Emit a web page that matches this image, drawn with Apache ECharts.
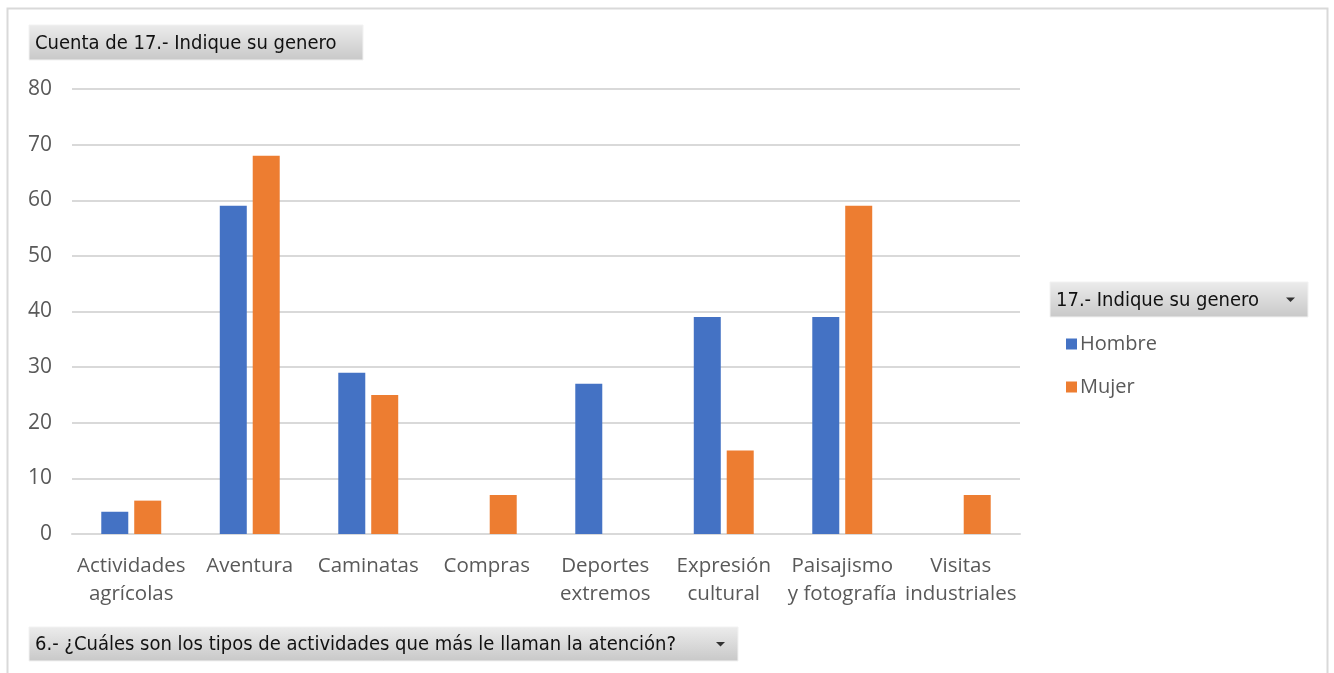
<!DOCTYPE html>
<html>
<head>
<meta charset="utf-8">
<script src="https://cdn.jsdelivr.net/npm/echarts@6/dist/echarts.min.js"></script>
<style>
  html, body { margin: 0; padding: 0; background: #fff; }
  #main { width: 1334px; height: 673px; }
</style>
</head>
<body>
<div id="main"></div>
<script>
// datos de la tabla dinamica
const categorias = ['Actividades\nagrícolas', 'Aventura', 'Caminatas', 'Compras', 'Deportes\nextremos', 'Expresión\ncultural', 'Paisajismo\ny fotografía', 'Visitas\nindustriales']
const hombre = [4, 59, 29, null, 27, 39, 39, null]
const mujer = [6, 68, 25, 7, null, 15, 59, 7]
const serieNombres = ['Hombre', 'Mujer']
const yMin = 0
const yMax = 80
const yPaso = 10

// caja gris con degradado (botones de campo de Excel)
function botonCampo(x, y, w, h, texto, flecha) {
  const items = [
    {
      type: 'rect',
      shape: { x: x, y: y, width: w, height: h },
      style: {
        fill: new echarts.graphic.LinearGradient(0, 0, 0, 1, [
          { offset: 0, color: '#ececec' },
          { offset: 1, color: '#c8c8c8' }
        ]),
        stroke: '#f2f2f2',
        lineWidth: 1
      }
    },
    {
      type: 'text',
      x: x + 6,
      y: y + h / 2 + 1,
      style: {
        text: texto,
        fontFamily: 'DejaVu Sans Condensed',
        fontSize: 20,
        fill: '#111',
        verticalAlign: 'middle'
      }
    }
  ]
  if (flecha) {
    items.push({
      type: 'polygon',
      shape: { points: [[x + w - 22, y + h / 2 - 2], [x + w - 13, y + h / 2 - 2], [x + w - 17.5, y + h / 2 + 2.5]] },
      style: { fill: '#333' }
    })
  }
  return items
}

const myChart = echarts.init(document.getElementById('main'))
const option = {
  animation: false,
  graphic: [
    {
      type: 'rect',
      shape: { x: 7.5, y: 8.5, width: 1320, height: 680 },
      style: { fill: 'none', stroke: '#d9d9d9', lineWidth: 2 }
    },
    ...botonCampo(29, 25, 334, 35, 'Cuenta de 17.- Indique su genero', false),
    ...botonCampo(1050, 282, 258, 35, '17.- Indique su genero', true),
    ...botonCampo(29, 627, 709, 34, '6.- ¿Cuáles son los tipos de actividades que más le llaman la atención?', true)
  ],
  legend: {
    orient: 'vertical',
    left: 1061,
    top: 329,
    itemWidth: 11,
    itemHeight: 11,
    itemGap: 23,
    icon: 'rect',
    data: serieNombres,
    textStyle: { fontFamily: 'Open Sans', fontSize: 20, color: '#595959', padding: [0, 0, 0, -2] }
  },
  grid: {
    left: 72,
    right: 314,
    top: 89,
    bottom: 139
  },
  xAxis: {
    type: 'category',
    data: categorias,
    axisTick: { show: false },
    axisLine: { lineStyle: { color: '#d9d9d9', width: 2 } },
    axisLabel: {
      interval: 0,
      margin: 18,
      fontFamily: 'Open Sans',
      fontSize: 20.5,
      lineHeight: 28,
      color: '#595959'
    }
  },
  yAxis: {
    type: 'value',
    min: yMin,
    max: yMax,
    interval: yPaso,
    axisLine: { show: false },
    axisTick: { show: false },
    splitLine: { lineStyle: { color: '#d9d9d9', width: 2 } },
    axisLabel: {
      margin: 20,
      fontFamily: 'Open Sans',
      fontSize: 21,
      color: '#595959'
    }
  },
  series: [
    {
      name: serieNombres[0],
      type: 'bar',
      data: hombre,
      barWidth: 27,
      barGap: '22%',
      itemStyle: { color: '#4472C4' }
    },
    {
      name: serieNombres[1],
      type: 'bar',
      data: mujer,
      barWidth: 27,
      barGap: '22%',
      itemStyle: { color: '#ED7D31' }
    }
  ]
}
myChart.setOption(option)
</script>
</body>
</html>
